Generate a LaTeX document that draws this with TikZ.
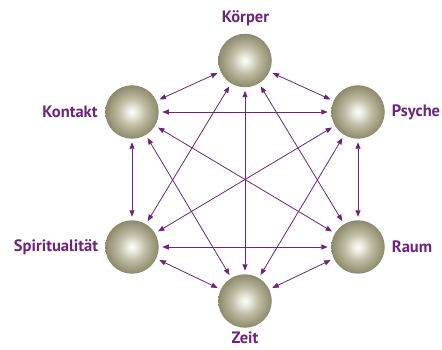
\documentclass[tikz,border=0pt]{standalone}
\usepackage{fontspec}
\setmainfont{PT Sans}
\usetikzlibrary{arrows.meta}
\definecolor{lila}{RGB}{110,35,125}
\pgfdeclareradialshading{sphereshade}{\pgfpoint{0bp}{0bp}}{rgb(0bp)=(0.99,0.99,0.97); rgb(3bp)=(0.95,0.95,0.92); rgb(13bp)=(0.74,0.73,0.63); rgb(25bp)=(0.55,0.54,0.42); rgb(50bp)=(0.55,0.54,0.42)}
\begin{document}
\begin{tikzpicture}[x=1pt,y=-1pt,
  sphere/.style={circle, minimum size=53.5pt, inner sep=0pt, outer sep=3.5pt, shade, shading=sphereshade},
  lbl/.style={text=lila, font=\bfseries\fontsize{16.5}{18}\selectfont, inner sep=0pt},
  arr/.style={draw=lila, line width=0.8pt, {Triangle[length=6.5pt,width=5pt]}-{Triangle[length=6.5pt,width=5pt]}}]
\useasboundingbox (0,0) rectangle (442,350);
\node[sphere] (k) at (245,60.5) {};
\node[sphere] (p) at (358,112) {};
\node[sphere] (r) at (358,247) {};
\node[sphere] (z) at (245,301) {};
\node[sphere] (s) at (132,247) {};
\node[sphere] (ko) at (132,112) {};
\node[lbl] (lk) at (245.5,18) {Körper};
\node[lbl] (lp) at (416,112) {Psyche};
\node[lbl] (lr) at (412,247) {Raum};
\node[lbl] (lz) at (245,338) {Zeit};
\node[lbl] (ls) at (56,247) {Spiritualität};
\node[lbl] (lko) at (70,112) {Kontakt};
\foreach \a/\b in {k/p,k/r,k/z,k/s,k/ko,p/r,p/z,p/s,p/ko,r/z,r/s,r/ko,z/s,z/ko,s/ko}
  \draw[arr] (\a) -- (\b);
\end{tikzpicture}
\end{document}
